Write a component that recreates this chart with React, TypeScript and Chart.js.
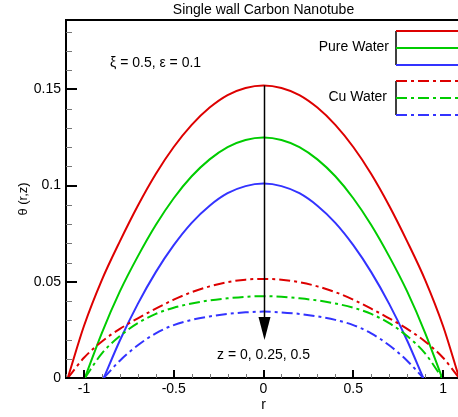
import React, { useEffect, useRef } from "react";
import { Chart, registerables } from "chart.js";

Chart.register(...registerables);

const FONT = "'Liberation Sans', Arial, sans-serif";

const TITLE = "Single wall Carbon Nanotube";
const X_LABEL = "r";
const Y_LABEL = "θ (r,z)";
const PARAM_TEXT = "ξ = 0.5, ε = 0.1";
const Z_TEXT = "z = 0, 0.25, 0.5";
const LEGEND_PURE = "Pure Water";
const LEGEND_CU = "Cu Water";

// Pure water (solid), z = 0, 0.25, 0.5
const rPureZ0 = [-1.09, -1.0, -0.9, -0.8, -0.7, -0.6, -0.5, -0.4, -0.3, -0.2, -0.1, 0, 0.1, 0.2, 0.3, 0.4, 0.5, 0.6, 0.7, 0.8, 0.9, 1.0, 1.09];
const thetaPureZ0 = [0, 0.027, 0.051, 0.071, 0.0895, 0.106, 0.12, 0.1315, 0.1405, 0.147, 0.1507, 0.152, 0.1507, 0.147, 0.1405, 0.1315, 0.12, 0.106, 0.0895, 0.071, 0.051, 0.027, 0];

const rPureZ25 = [-0.995, -0.9, -0.8, -0.7, -0.6, -0.5, -0.4, -0.3, -0.2, -0.1, 0, 0.1, 0.2, 0.3, 0.4, 0.5, 0.6, 0.7, 0.8, 0.9, 0.995];
const thetaPureZ25 = [0, 0.0235, 0.045, 0.0632, 0.0795, 0.0934, 0.1048, 0.1136, 0.12, 0.1237, 0.125, 0.1237, 0.12, 0.1136, 0.1048, 0.0934, 0.0795, 0.0632, 0.045, 0.0235, 0];

const rPureZ50 = [-0.89, -0.8, -0.7, -0.6, -0.5, -0.4, -0.3, -0.2, -0.1, 0, 0.1, 0.2, 0.3, 0.4, 0.5, 0.6, 0.7, 0.8, 0.89];
const thetaPureZ50 = [0, 0.0195, 0.0385, 0.055, 0.069, 0.0806, 0.0895, 0.096, 0.0997, 0.101, 0.0997, 0.096, 0.0895, 0.0806, 0.069, 0.055, 0.0385, 0.0195, 0];

// Cu water (dash-dot), z = 0, 0.25, 0.5
const rCuZ0 = [-1.09, -1.0, -0.9, -0.8, -0.7, -0.6, -0.5, -0.4, -0.3, -0.2, -0.1, 0, 0.1, 0.2, 0.3, 0.4, 0.5, 0.6, 0.7, 0.8, 0.9, 1.0, 1.09];
const thetaCuZ0 = [0, 0.0105, 0.019, 0.0255, 0.031, 0.036, 0.0407, 0.0446, 0.0476, 0.0498, 0.0511, 0.0515, 0.0511, 0.0498, 0.0476, 0.0446, 0.0407, 0.036, 0.031, 0.0255, 0.019, 0.0105, 0];

const rCuZ25 = [-0.995, -0.9, -0.8, -0.7, -0.6, -0.5, -0.4, -0.3, -0.2, -0.1, 0, 0.1, 0.2, 0.3, 0.4, 0.5, 0.6, 0.7, 0.8, 0.9, 0.995];
const thetaCuZ25 = [0, 0.0128, 0.0218, 0.0285, 0.0333, 0.0365, 0.0387, 0.0403, 0.0414, 0.0422, 0.0425, 0.0422, 0.0414, 0.0403, 0.0387, 0.0365, 0.0333, 0.0285, 0.0218, 0.0128, 0];

const rCuZ50 = [-0.89, -0.8, -0.7, -0.6, -0.5, -0.4, -0.3, -0.2, -0.1, 0, 0.1, 0.2, 0.3, 0.4, 0.5, 0.6, 0.7, 0.8, 0.89];
const thetaCuZ50 = [0, 0.009, 0.017, 0.0232, 0.0275, 0.0302, 0.032, 0.0333, 0.0341, 0.0345, 0.0341, 0.0333, 0.032, 0.0302, 0.0275, 0.0232, 0.017, 0.009, 0];

// Arrow annotation (from top curve peak down to below the lowest curve)
const ARROW_R = 0;
const ARROW_FROM = 0.152;
const ARROW_TO = 0.0198;

const X_MIN = -1.1;
const X_MAX = 1.1;
const Y_MIN = 0;
const Y_MAX = 0.186;

const RED = "#dd0000";
const GREEN = "#00cc00";
const BLUE = "#3333ff";
const DASHDOT = [11, 4, 3, 4];

const pts = (rs: number[], ts: number[]) => rs.map((r, i) => ({ x: r, y: ts[i] }));
const fmt = (v: any) => String(+Number(v).toFixed(2));

const overlayPlugin = {
  id: "overlay",
  afterDatasetsDraw(chart: any) {
    const { ctx, chartArea: ca, scales } = chart;
    const xs = scales.x;
    const ys = scales.y;
    ctx.save();

    // top frame line
    ctx.strokeStyle = "#000";
    ctx.lineWidth = 2;
    ctx.beginPath();
    ctx.moveTo(ca.left - 1, ca.top);
    ctx.lineTo(ca.right, ca.top);
    ctx.stroke();

    // y minor ticks
    ctx.strokeStyle = "#777";
    ctx.lineWidth = 1;
    for (let i = 1; i * 0.01 < Y_MAX; i++) {
      if (i % 5 === 0) continue;
      const py = Math.round(ys.getPixelForValue(i * 0.01)) + 0.5;
      ctx.beginPath();
      ctx.moveTo(ca.left, py);
      ctx.lineTo(ca.left + 6, py);
      ctx.stroke();
    }
    // x minor ticks
    for (let i = -11; i <= 11; i++) {
      if (i % 5 === 0) continue;
      const px = Math.round(xs.getPixelForValue(i * 0.1)) + 0.5;
      ctx.beginPath();
      ctx.moveTo(px, ca.bottom);
      ctx.lineTo(px, ca.bottom - 4);
      ctx.stroke();
    }
    // major ticks
    ctx.strokeStyle = "#000";
    ctx.lineWidth = 2;
    ys.ticks.forEach((t: any) => {
      const py = Math.round(ys.getPixelForValue(t.value));
      ctx.beginPath();
      ctx.moveTo(ca.left, py);
      ctx.lineTo(ca.left + 11, py);
      ctx.stroke();
    });
    xs.ticks.forEach((t: any) => {
      const px = Math.round(xs.getPixelForValue(t.value));
      ctx.beginPath();
      ctx.moveTo(px, ca.bottom);
      ctx.lineTo(px, ca.bottom - 8);
      ctx.stroke();
    });

    // arrow
    const ax = Math.round(xs.getPixelForValue(ARROW_R)) + 0.5;
    const ayTop = ys.getPixelForValue(ARROW_FROM);
    const ayTip = ys.getPixelForValue(ARROW_TO);
    ctx.lineWidth = 1.5;
    ctx.beginPath();
    ctx.moveTo(ax, ayTop);
    ctx.lineTo(ax, ayTip - 20);
    ctx.stroke();
    ctx.fillStyle = "#000";
    ctx.beginPath();
    ctx.moveTo(ax - 6, ayTip - 23);
    ctx.lineTo(ax + 6, ayTip - 23);
    ctx.lineTo(ax, ayTip);
    ctx.closePath();
    ctx.fill();

    // texts
    ctx.fillStyle = "#000";
    ctx.textBaseline = "middle";
    ctx.font = `14px ${FONT}`;
    ctx.textAlign = "center";
    ctx.fillText(TITLE, (ca.left + ca.right) / 2, 10);
    ctx.textAlign = "left";
    ctx.fillText(PARAM_TEXT, 110, 63);
    ctx.fillText(Z_TEXT, 217, 355);
    ctx.textAlign = "right";
    ctx.fillText(LEGEND_PURE, 389, 47);
    ctx.fillText(LEGEND_CU, 387, 97);

    // legend keys
    const lx = 396;
    const rx = chart.width;
    ctx.strokeStyle = "#000";
    ctx.lineWidth = 1.5;
    ctx.beginPath();
    ctx.moveTo(lx, 31);
    ctx.lineTo(lx, 65);
    ctx.moveTo(lx, 81);
    ctx.lineTo(lx, 115);
    ctx.stroke();
    const keys: [number, string, boolean][] = [
      [31, RED, false],
      [48, GREEN, false],
      [65, BLUE, false],
      [81, RED, true],
      [98, GREEN, true],
      [115, BLUE, true],
    ];
    ctx.lineWidth = 2;
    keys.forEach(([ky, c, dashed]) => {
      ctx.strokeStyle = c;
      ctx.setLineDash(dashed ? DASHDOT : []);
      ctx.beginPath();
      ctx.moveTo(lx, ky);
      ctx.lineTo(rx, ky);
      ctx.stroke();
    });
    ctx.restore();
  },
};

function mk(label: string, data: any[], color: string, dashed: boolean) {
  return {
    label,
    data,
    borderColor: color,
    backgroundColor: color,
    borderWidth: 2,
    borderDash: dashed ? DASHDOT : [],
    pointRadius: 0,
    fill: false,
    cubicInterpolationMode: "monotone" as const,
  };
}

export default function App() {
  const ref = useRef<HTMLCanvasElement | null>(null);
  useEffect(() => {
    if (!ref.current) return;
    const chart = new Chart(ref.current, {
      type: "line",
      data: {
        datasets: [
          mk("Cu z=0.5", pts(rCuZ50, thetaCuZ50), BLUE, true),
          mk("Cu z=0.25", pts(rCuZ25, thetaCuZ25), GREEN, true),
          mk("Cu z=0", pts(rCuZ0, thetaCuZ0), RED, true),
          mk("Pure z=0.5", pts(rPureZ50, thetaPureZ50), BLUE, false),
          mk("Pure z=0.25", pts(rPureZ25, thetaPureZ25), GREEN, false),
          mk("Pure z=0", pts(rPureZ0, thetaPureZ0), RED, false),
        ],
      },
      options: {
        animation: false,
        responsive: false,
        maintainAspectRatio: false,
        layout: { padding: { left: 16, top: 20, right: 9, bottom: 0 } },
        plugins: { legend: { display: false }, title: { display: false }, tooltip: { enabled: false } },
        scales: {
          x: {
            type: "linear",
            min: X_MIN,
            max: X_MAX,
            ticks: { stepSize: 0.5, includeBounds: false, color: "#000", font: { size: 14, family: FONT }, padding: 3, maxRotation: 0, callback: fmt },
            grid: { display: false, drawTicks: false },
            border: { display: true, color: "#000", width: 2 },
            title: { display: true, text: X_LABEL, color: "#000", font: { size: 14, family: FONT }, padding: { top: 0, bottom: 3 } },
            afterFit: (s: any) => { s.height = 39; },
          },
          y: {
            type: "linear",
            min: Y_MIN,
            max: Y_MAX,
            ticks: { stepSize: 0.05, includeBounds: false, color: "#000", font: { size: 14, family: FONT }, padding: 5, callback: fmt },
            grid: { display: false, drawTicks: false },
            border: { display: true, color: "#000", width: 2 },
            title: { display: true, text: Y_LABEL, color: "#000", font: { size: 13, family: FONT }, padding: { top: 0, bottom: 0 } },
            afterFit: (s: any) => { s.width = 50; },
          },
        },
      },
      plugins: [overlayPlugin],
    } as any);
    return () => chart.destroy();
  }, []);
  return (
    <div style={{ position: "absolute", left: 0, top: 0, width: 458, height: 417, overflow: "hidden", background: "#fff" }}>
      <canvas ref={ref} width={470} height={417} style={{ display: "block" }} />
    </div>
  );
}
